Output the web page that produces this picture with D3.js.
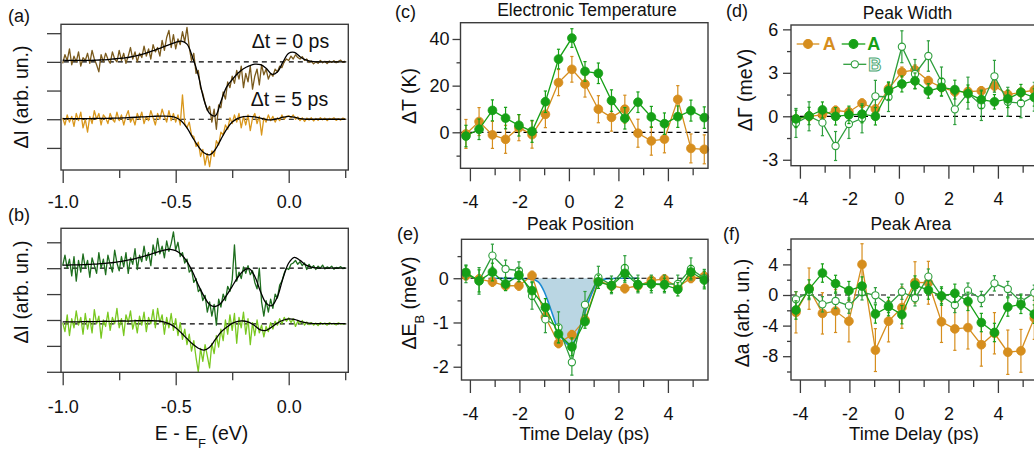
<!DOCTYPE html>
<html>
<head>
<meta charset="utf-8">
<script src="https://cdn.jsdelivr.net/npm/d3@7"></script>
<style>
  body { margin: 0; background: #fff; }
  svg { display: block; font-family: "Liberation Sans", Arial, Helvetica, sans-serif; }
</style>
</head>
<body>
<svg id="fig" width="1034" height="451"></svg>
<script>
// ---------- time-resolved fit parameters (panels c-f) ----------
const delay = [-4.16,-3.63,-3.09,-2.56,-2.02,-1.49,-0.95,-0.42,0.12,0.65,1.19,1.72,2.26,2.79,3.33,3.86,4.40,4.93,5.47];

// (c) electronic temperature, K
const tempOrange    = [-0.7,4.6,-1.1,-3.0,2.0,-1.0,7.7,21.3,27.0,20.7,9.9,6.4,9.9,-0.4,-3.7,-2.9,14.1,-6.9,-7.3];
const tempOrangeErr = [6.2,6.0,5.8,6.0,5.6,5.8,5.7,5.6,5.5,5.6,5.8,5.9,6.0,6.0,6.1,5.9,5.9,6.2,6.2];
const tempGreen     = [-1.6,1.3,9.4,6.1,3.0,0.4,13.1,31.4,40.4,26.1,25.3,13.6,6.0,12.9,6.6,3.7,6.7,9.3,6.3];
const tempGreenErr  = [4.6,4.4,4.5,4.6,4.6,4.7,4.6,4.2,4.0,4.2,4.4,4.6,4.6,4.4,4.5,4.6,4.6,4.5,4.6];

// (d) peak width, meV
const widthOrange    = [-0.2,0.0,0.1,0.4,0.3,0.9,0.5,1.9,3.05,3.2,2.45,2.0,1.7,1.7,1.75,2.1,1.5,1.65,1.8];
const widthOrangeErr = [0.3,0.3,0.3,0.3,0.3,0.3,0.3,0.35,0.35,0.35,0.3,0.3,0.3,0.3,0.3,0.35,0.3,0.3,0.3];
const widthGreen     = [-0.18,0.02,0.44,0.0,0.1,0.15,0.0,1.77,2.23,2.44,1.75,2.0,1.84,1.56,1.15,1.0,1.2,1.65,1.3];
const widthGreenErr  = [0.6,0.6,0.55,0.6,0.6,0.6,0.6,0.6,0.55,0.55,0.5,0.6,0.65,0.6,0.6,0.5,0.6,0.55,0.6];
const widthB         = [-0.46,0.0,-0.44,-2.05,-0.53,-0.14,1.38,1.33,4.8,2.92,4.16,2.4,0.48,1.6,0.76,2.76,1.0,0.9,1.35];
const widthBErr      = [1.0,1.0,0.9,1.0,1.0,1.0,1.1,1.0,1.1,1.0,1.05,1.0,1.05,1.1,1.05,1.1,1.0,1.0,1.0];

// (e) peak position, meV
const posOrange    = [0.06,-0.02,-0.08,-0.17,-0.17,0.06,-0.88,-1.47,-1.28,-0.94,-0.05,-0.17,-0.23,-0.17,-0.05,-0.02,-0.2,0.0,0.04];
const posOrangeErr = [0.1,0.1,0.1,0.1,0.1,0.1,0.1,0.1,0.1,0.1,0.1,0.1,0.1,0.1,0.1,0.1,0.1,0.1,0.1];
const posGreen     = [0.13,-0.06,0.14,-0.13,0.07,-0.28,-0.66,-1.26,-1.55,-0.98,-0.08,-0.17,0.11,-0.15,-0.13,-0.15,-0.25,0.14,-0.04];
const posGreenErr  = [0.15,0.25,0.2,0.15,0.15,0.2,0.2,0.2,0.2,0.15,0.15,0.15,0.2,0.15,0.15,0.15,0.15,0.15,0.2];
const posB         = [0.1,-0.06,0.51,0.21,0.17,-0.4,-0.93,-1.11,-1.9,-0.6,0.02,-0.15,0.23,-0.13,-0.13,-0.13,-0.13,0.21,0.0];
const posBErr      = [0.2,0.3,0.26,0.2,0.2,0.3,0.3,0.35,0.29,0.3,0.25,0.2,0.28,0.2,0.2,0.2,0.2,0.25,0.2];
// shift model curve for (e)
const shiftFitT = [-3.07,-2.0,-1.5,-1.24,-1.0,-0.84,-0.6,-0.43,-0.2,0.04,0.25,0.44,0.65,0.85,1.0,1.18,1.5,2.0,2.8];
const shiftFitV = [0,-0.005,-0.02,-0.08,-0.3,-0.53,-0.92,-1.2,-1.42,-1.51,-1.4,-1.12,-0.78,-0.45,-0.25,-0.08,-0.015,0,0];

// (f) peak area, arb. un.
const areaOrange    = [-2.26,0.83,-2.4,-2.1,-3.43,4.0,-7.2,-3.43,-1.65,1.65,1.6,-3.5,-4.43,-4.26,-6.5,-5.0,-7.48,-7.3,-3.0];
const areaOrangeErr = [2.7,2.7,2.7,2.8,2.7,2.7,2.8,2.7,2.7,2.7,2.8,2.7,2.8,2.8,2.8,2.7,2.9,2.8,2.8];
const areaGreen     = [-1.96,0.78,2.87,1.48,0.57,1.17,-2.48,-1.52,-2.57,1.3,0.65,-0.13,0.22,-0.83,-3.6,-4.9,-1.57,-1.22,-2.5];
const areaGreenErr  = [1.2,1.2,1.2,1.1,1.2,1.2,1.2,1.2,1.2,1.2,1.2,1.2,1.2,1.2,1.2,1.2,1.2,1.2,1.2];
const areaB         = [-0.57,0.39,-1.22,-0.78,-1.39,0.35,-0.04,-1.3,0.43,-0.43,2.4,-0.13,-1.3,0.57,-0.52,1.52,0.78,-0.87,0.3];
const areaBErr      = [1.0,1.0,1.0,1.0,1.0,1.0,1.0,1.0,1.0,1.0,1.0,1.0,1.0,1.0,1.0,1.0,1.0,1.0,1.0];

// ---------- difference spectra (panels a, b) ----------
// measured channels: E - EF from -1.00 eV in 0.01 eV steps
const specStart = -1.0, specStep = 0.01;
const specA0 = [
  1.95,2.25,2.05,2.45,1.90,2.20,2.00,2.35,1.85,2.15,
  2.05,2.30,1.95,2.40,2.10,1.90,1.65,2.25,2.00,2.30,
  2.10,1.95,2.35,2.10,2.00,2.40,2.05,2.30,1.95,2.20,
  2.50,2.10,2.35,2.00,2.30,2.15,2.55,2.20,2.45,2.10,
  2.60,2.35,2.50,2.20,2.75,2.40,2.85,3.10,2.50,2.95,
  2.45,2.80,2.60,3.05,2.70,3.20,2.50,2.05,2.30,1.60,
  1.70,1.10,0.90,0.55,0.30,0.45,-0.10,0.35,-0.35,0.50,
  0.40,0.95,0.70,1.30,1.10,1.50,1.25,1.70,1.40,1.85,
  1.10,1.60,1.30,1.85,1.05,1.50,1.75,1.20,1.90,1.55,
  1.75,1.40,1.60,1.50,1.75,1.65,1.85,1.80,2.00,2.10,
  2.05,2.20,2.10,2.25,2.15,2.10,2.18,2.05,2.10,1.98,
  2.03,1.93,2.00,1.95,2.05,1.97,2.02,1.94,2.03,1.98,
  2.04,1.97,2.02,2.06,1.98,2.03];
const specA5 = [
  0.05,-0.20,0.15,-0.10,0.10,-0.25,0.20,-0.05,0.25,-0.30,
  0.00,-0.45,0.10,-0.15,0.30,0.00,0.20,-0.20,0.15,0.05,
  -0.15,0.20,0.00,-0.10,0.25,-0.05,0.15,-0.20,0.10,0.30,
  -0.10,0.05,-0.20,0.20,0.00,0.25,-0.15,0.10,-0.05,0.30,
  0.05,-0.20,0.20,0.00,0.35,0.10,-0.10,0.30,-0.05,0.20,
  -0.10,0.15,-0.20,0.85,-0.15,-0.30,-0.10,-0.55,-0.60,-0.95,
  -0.80,-1.30,-1.05,-1.60,-1.20,-1.65,-1.10,-1.30,-0.75,-0.90,
  -0.45,-0.55,-0.20,-0.35,0.05,-0.15,0.15,-0.10,0.20,-0.30,
  0.10,-0.20,0.15,-0.40,0.05,0.20,-0.15,0.10,-0.55,0.05,
  -0.10,0.15,-0.05,0.10,-0.10,0.05,-0.05,0.15,0.00,0.10,
  0.12,0.05,0.15,0.00,0.08,-0.05,0.05,-0.08,0.04,-0.03,
  0.05,-0.06,0.03,-0.04,0.05,-0.02,0.04,-0.05,0.03,0.00,
  0.05,-0.04,0.02,-0.03,0.04,0.00];
const specB0 = [
  2.10,2.50,2.00,2.35,1.70,2.45,1.50,2.30,1.85,2.55,
  2.00,2.30,1.65,2.40,2.10,1.80,2.60,2.00,2.35,1.75,
  2.50,2.15,1.85,2.70,2.20,1.90,2.45,2.05,2.60,1.80,
  2.40,2.15,2.75,1.95,2.50,2.25,2.85,2.30,2.60,2.10,
  2.90,2.50,3.15,2.55,2.85,2.40,3.05,2.65,2.95,3.40,
  2.70,3.00,2.45,2.60,2.20,2.35,1.85,1.95,1.45,1.60,
  1.10,1.20,0.75,0.95,0.30,0.70,0.15,0.60,-0.20,0.80,
  0.50,1.00,0.75,1.30,1.10,1.55,2.90,1.50,1.85,1.60,
  2.05,1.80,2.10,1.75,1.90,1.45,1.20,2.00,0.70,0.15,
  0.75,0.30,0.80,0.45,1.00,0.85,1.35,1.50,1.80,2.00,
  1.95,2.15,2.20,2.30,2.15,2.25,2.10,2.20,1.95,2.15,
  2.00,2.10,1.95,2.08,2.00,2.12,1.97,2.05,2.00,2.08,
  1.96,2.03,2.00,2.06,1.98,2.02];
const specB5 = [
  -0.10,-0.45,0.20,-0.60,0.05,-0.30,0.35,-0.20,0.10,-0.55,
  0.25,-0.35,0.05,-0.50,0.40,-0.15,0.15,-0.70,0.00,-0.25,
  0.30,-0.40,0.10,-0.15,0.45,-0.30,0.05,-0.60,0.20,-0.10,
  0.35,-0.35,0.00,-0.50,0.15,-0.20,0.30,-0.45,0.10,-0.15,
  0.40,-0.30,0.45,-0.10,0.20,-0.55,0.10,-0.30,0.25,-0.40,
  0.05,-0.60,-0.10,-0.75,-0.35,-0.95,-0.55,-1.20,-0.80,-1.45,
  -2.00,-1.10,-1.60,-0.95,-1.40,-1.85,-0.90,-1.30,-0.60,-1.05,
  -0.35,-0.80,0.00,-0.55,0.20,-0.40,0.25,-0.90,0.10,-0.30,
  0.30,-0.55,0.05,-0.95,-0.10,-0.60,0.00,-0.50,-0.20,-0.65,
  -0.25,-0.45,-0.10,-0.35,-0.05,-0.20,0.05,-0.15,0.10,-0.05,
  0.08,-0.10,0.05,-0.25,-0.05,-0.15,-0.02,-0.20,-0.08,-0.18,
  -0.10,-0.20,-0.12,-0.22,-0.10,-0.17,-0.12,-0.20,-0.10,-0.16,
  -0.13,-0.19,-0.11,-0.16,-0.14,-0.15];

// fitted line shapes, sampled every 0.025 eV from -1.0 eV
const fitEnergy = [-1.0,-0.975,-0.95,-0.925,-0.9,-0.875,-0.85,-0.825,-0.8,-0.775,-0.75,-0.725,-0.7,-0.675,-0.65,-0.625,-0.6,-0.575,-0.55,-0.525,-0.5,-0.475,-0.45,-0.425,-0.4,-0.375,-0.35,-0.325,-0.3,-0.275,-0.25,-0.225,-0.2,-0.175,-0.15,-0.125,-0.1,-0.075,-0.05,-0.025,0,0.025,0.05,0.075,0.1,0.125,0.15,0.175,0.2,0.225,0.25];
const fitA0 = [2.06,2.05,2.05,2.05,2.05,2.05,2.06,2.07,2.08,2.10,2.12,2.14,2.17,2.21,2.26,2.32,2.39,2.46,2.54,2.61,2.68,2.72,2.62,2.15,1.53,0.68,0.2,0.12,0.62,1.12,1.38,1.6,1.76,1.86,1.92,1.9,1.78,1.57,1.65,2.0,2.3,2.33,2.18,2.07,2.02,2.0,2.0,2.0,2.0,2.0,2.0];
const fitA5 = [0.02,0.02,0.02,0.02,0.02,0.02,0.03,0.03,0.03,0.04,0.04,0.05,0.06,0.07,0.08,0.09,0.10,0.11,0.11,0.10,0.06,-0.06,-0.3,-0.64,-0.95,-1.17,-1.24,-1.06,-0.7,-0.35,-0.1,0.03,0.09,0.1,0.08,0.04,-0.01,-0.02,0.02,0.07,0.1,0.07,0.02,0.0,0.0,0.0,0.0,0.0,0.0,0.0,0.0];
const fitB0 = [2.12,2.12,2.13,2.13,2.14,2.15,2.16,2.18,2.2,2.22,2.25,2.29,2.33,2.38,2.44,2.5,2.57,2.64,2.7,2.73,2.68,2.53,2.25,1.85,1.35,0.92,0.6,0.52,0.65,0.95,1.3,1.65,1.9,1.98,1.68,1.1,0.65,0.55,0.9,1.62,2.2,2.42,2.3,2.13,2.04,2.01,2.0,2.0,2.0,2.0,2.0];
const fitB5 = [-0.07,-0.07,-0.07,-0.07,-0.06,-0.06,-0.06,-0.05,-0.05,-0.05,-0.04,-0.04,-0.04,-0.03,-0.03,-0.03,-0.03,-0.04,-0.08,-0.16,-0.3,-0.5,-0.72,-0.93,-1.09,-1.16,-1.05,-0.76,-0.47,-0.28,-0.13,-0.05,-0.04,-0.09,-0.22,-0.38,-0.4,-0.27,-0.12,-0.01,0.04,0.02,-0.05,-0.1,-0.13,-0.14,-0.14,-0.14,-0.14,-0.14,-0.14];
const baselinesA = [2, 0];
const baselinesB = [2, -0.15];

// ---------- styling ----------
const FONT = '"Liberation Sans", Arial, Helvetica, sans-serif';
const ORANGE = "#d68e1e";
const GREEN = "#16a016";
const GREEN_OPEN = "#2e9e3c";
const FRAME = "#3c3c3c";
const INK = "#111";

const svg = d3.select("#fig");

function frame(g, b) {
  g.append("rect").attr("x", b.l).attr("y", b.t).attr("width", b.r - b.l).attr("height", b.b - b.t)
    .attr("fill", "none").attr("stroke", FRAME).attr("stroke-width", 1.4);
}

function styleAxis(sel, size) {
  sel.attr("font-family", FONT);
  sel.select(".domain").remove();
  sel.selectAll(".tick line").attr("stroke", FRAME).attr("stroke-width", 1.3);
  sel.selectAll(".tick text").attr("fill", INK).style("font-size", size + "px");
}

function axes(g, x, y, b, o) {
  const gx = g.append("g").attr("transform", `translate(0,${b.b})`)
    .call(d3.axisBottom(x).tickValues(o.xMajor).tickSize(13).tickPadding(o.xPad).tickFormat(o.xFmt));
  styleAxis(gx, 18);
  const gxm = g.append("g").attr("transform", `translate(0,${b.b})`)
    .call(d3.axisBottom(x).tickValues(o.xMinor).tickSize(o.xMinorLen || 7).tickFormat(() => ""));
  styleAxis(gxm, 18);
  const gy = g.append("g").attr("transform", `translate(${b.l},0)`)
    .call(d3.axisLeft(y).tickValues(o.yMajor).tickSize(o.yLen || 8).tickPadding(o.yPad || 4).tickFormat(o.yFmt || (() => "")));
  styleAxis(gy, 18);
  if (o.yMinor) {
    const gym = g.append("g").attr("transform", `translate(${b.l},0)`)
      .call(d3.axisLeft(y).tickValues(o.yMinor).tickSize(4).tickFormat(() => ""));
    styleAxis(gym, 18);
  }
}

function zeroLine(g, y, b, v, x0, x1) {
  g.append("line").attr("x1", x0 ?? b.l).attr("x2", x1 ?? b.r).attr("y1", y(v)).attr("y2", y(v))
    .attr("stroke", "#000").attr("stroke-width", 1.2).attr("stroke-dasharray", "5,4");
}

function label(x, y, txt, size, extra) {
  const t = svg.append("text").attr("x", x).attr("y", y).attr("fill", INK)
    .attr("font-family", FONT).style("font-size", size + "px").text(txt);
  if (extra) extra(t);
  return t;
}

function yTitle(cx, cy, parts) {
  const t = svg.append("text").attr("transform", `translate(${cx},${cy}) rotate(-90)`)
    .attr("text-anchor", "middle").attr("dy", "0.35em").attr("fill", INK)
    .attr("font-family", FONT).style("font-size", "19.5px");
  parts.forEach(p => {
    const s = t.append("tspan").text(p.t);
    if (p.sub) s.attr("baseline-shift", "sub").style("font-size", "13px");
  });
}

const fmtPlain = d => String(d);

// ---------- spectra panels ----------
function spectraPanel(b, yDomain, yTicks, traces, fits, bases, xPad) {
  const x = d3.scaleLinear().domain([-1.0075, 0.2637]).range([b.l, b.r]);
  const y = d3.scaleLinear().domain(yDomain).range([b.b, b.t]);
  const g = svg.append("g");
  axes(g, x, y, b, {
    xMajor: [-1, -0.5, 0], xMinor: [-0.75, -0.25, 0.25], xMinorLen: 8, xPad: xPad,
    xFmt: d => d.toFixed(1), yMajor: yTicks, yLen: 14
  });
  bases.forEach(v => zeroLine(g, y, b, v, x(-0.995), x(0.255)));
  const line = d3.line().x(d => x(d[0])).y(d => y(d[1]));
  traces.forEach(tr => {
    const pts = tr.v.map((v, i) => [specStart + i * specStep, v]);
    g.append("path").datum(pts).attr("d", line).attr("fill", "none")
      .attr("stroke", tr.c).attr("stroke-width", 1.3).attr("stroke-linejoin", "round");
  });
  const fitLine = d3.line().x(d => x(d[0])).y(d => y(d[1])).curve(d3.curveCatmullRom.alpha(0.5));
  fits.forEach(f => {
    g.append("path").datum(fitEnergy.map((e, i) => [e, f[i]])).attr("d", fitLine)
      .attr("fill", "none").attr("stroke", "#000").attr("stroke-width", 1.3);
  });
  frame(g, b);
  return { x, y };
}

const boxA = { l: 61, r: 348.3, t: 24.3, b: 170 };
const boxB = { l: 61, r: 348.3, t: 228.3, b: 372.3 };
spectraPanel(boxA, [-1.77, 3.31], [-1, 0, 1, 2, 3],
  [{ v: specA0, c: "#7a5a1c" }, { v: specA5, c: "#d9971c" }], [fitA0, fitA5], baselinesA, 12);
spectraPanel(boxB, [-2.02, 3.54], [-2, -1, 0, 1, 2, 3],
  [{ v: specB0, c: "#1e6e1e" }, { v: specB5, c: "#79c820" }], [fitB0, fitB5], baselinesB, 14.7);

label(251.7, 48.3, "\u0394t = 0 ps", 19.5);
label(250.7, 106, "\u0394t = 5 ps", 19.5);
yTitle(21.5, 97, [{ t: "\u0394I (arb. un.)" }]);
yTitle(21.5, 292, [{ t: "\u0394I (arb. un.)" }]);
{
  const t = label(201.5, 440, "", 19.5, s => s.attr("text-anchor", "middle"));
  t.append("tspan").text("E - E");
  t.append("tspan").text("F").attr("baseline-shift", "sub").style("font-size", "13px");
  t.append("tspan").text(" (eV)");
}
label(8, 21.5, "(a)", 18);
label(8, 221, "(b)", 18);

// ---------- time-delay panels ----------
function drawSeries(g, x, y, vals, errs, color, filled) {
  const pts = delay.map((t, i) => ({ t, v: vals[i], e: errs[i] }));
  g.append("path").datum(pts)
    .attr("d", d3.line().x(d => x(d.t)).y(d => y(d.v)))
    .attr("fill", "none").attr("stroke", color).attr("stroke-width", 1.3);
  const eb = g.append("g").attr("stroke", color).attr("stroke-width", 1.2);
  eb.selectAll(".bar").data(pts).join("line")
    .attr("x1", d => x(d.t)).attr("x2", d => x(d.t))
    .attr("y1", d => y(d.v - d.e)).attr("y2", d => y(d.v + d.e));
  eb.selectAll(".capLo").data(pts).join("line")
    .attr("x1", d => x(d.t) - 1.6).attr("x2", d => x(d.t) + 1.6)
    .attr("y1", d => y(d.v - d.e)).attr("y2", d => y(d.v - d.e));
  eb.selectAll(".capHi").data(pts).join("line")
    .attr("x1", d => x(d.t) - 1.6).attr("x2", d => x(d.t) + 1.6)
    .attr("y1", d => y(d.v + d.e)).attr("y2", d => y(d.v + d.e));
  g.append("g").selectAll("circle").data(pts).join("circle")
    .attr("cx", d => x(d.t)).attr("cy", d => y(d.v))
    .attr("r", filled ? 4.4 : 3.6)
    .attr("fill", filled ? color : "#fff")
    .attr("stroke", color).attr("stroke-width", filled ? 0.8 : 1.1);
}

function timePanel(b, xRange, yDomain, yMajor, yMinor, yPad, series, extra) {
  const x = d3.scaleLinear().domain([-4.36, 5.62]).range(xRange);
  const y = d3.scaleLinear().domain(yDomain).range([b.b, b.t]);
  const g = svg.append("g");
  axes(g, x, y, b, {
    xMajor: [-4, -2, 0, 2, 4], xMinor: [-3, -1, 1, 3, 5], xPad: 14, xFmt: fmtPlain,
    yMajor, yMinor, yPad, yFmt: fmtPlain
  });
  if (extra) extra(g, x, y);
  zeroLine(g, y, b, 0);
  series.forEach(s => drawSeries(g, x, y, s.v, s.e, s.c, s.f));
  frame(g, b);
  return { g, x, y };
}

const boxC = { l: 460.5, r: 708, t: 22.7, b: 168.3 };
const boxD = { l: 791, r: 1039, t: 25, b: 165.7 };
const boxE = { l: 461.5, r: 708, t: 239.3, b: 380 };
const boxF = { l: 791, r: 1039, t: 239, b: 380 };

timePanel(boxC, [461, 708], [-15.43, 46.98], [0, 20, 40], [-10, 10, 30], 3, [
  { v: tempOrange, e: tempOrangeErr, c: ORANGE, f: true },
  { v: tempGreen, e: tempGreenErr, c: GREEN, f: true }
]);

const pd = timePanel(boxD, [791, 1038], [-3.41, 6.3], [-3, 0, 3, 6], [-1.5, 1.5, 4.5], 4.7, [
  { v: widthOrange, e: widthOrangeErr, c: ORANGE, f: true },
  { v: widthB, e: widthBErr, c: GREEN_OPEN, f: false },
  { v: widthGreen, e: widthGreenErr, c: GREEN, f: true }
]);

timePanel(boxE, [461, 708], [-2.30, 0.88], [-2, -1, 0], [-1.5, -0.5, 0.5], 4.7, [
  { v: posOrange, e: posOrangeErr, c: ORANGE, f: true },
  { v: posB, e: posBErr, c: GREEN_OPEN, f: false },
  { v: posGreen, e: posGreenErr, c: GREEN, f: true }
], (g, x, y) => {
  const pts = shiftFitT.map((t, i) => [t, shiftFitV[i]]);
  g.append("path").datum(pts)
    .attr("d", d3.area().x(d => x(d[0])).y0(y(0)).y1(d => y(d[1])).curve(d3.curveMonotoneX))
    .attr("fill", "#b3d2e0").attr("opacity", 0.9);
  g.append("path").datum(pts)
    .attr("d", d3.line().x(d => x(d[0])).y(d => y(d[1])).curve(d3.curveMonotoneX))
    .attr("fill", "none").attr("stroke", "#1c8ad2").attr("stroke-width", 1.6);
});

timePanel(boxF, [791, 1038], [-11.11, 7.32], [-8, -4, 0, 4], [-10, -6, -2, 2, 6], 4.7, [
  { v: areaOrange, e: areaOrangeErr, c: ORANGE, f: true },
  { v: areaB, e: areaBErr, c: GREEN_OPEN, f: false },
  { v: areaGreen, e: areaGreenErr, c: GREEN, f: true }
]);

// legend inside (d)
{
  const g = svg.append("g");
  const row = (x0, x1, yy, color, filled, txt, tx) => {
    g.append("line").attr("x1", x0).attr("x2", x1).attr("y1", yy).attr("y2", yy)
      .attr("stroke", color).attr("stroke-width", 1.3);
    g.append("circle").attr("cx", (x0 + x1) / 2).attr("cy", yy).attr("r", filled ? 4.4 : 3.6)
      .attr("fill", filled ? color : "#fff").attr("stroke", color).attr("stroke-width", 1.1);
    const t = g.append("text").attr("x", tx).attr("y", yy + 6.2).attr("font-family", FONT)
      .style("font-size", "18px").attr("font-weight", "bold").text(txt);
    if (filled) t.attr("fill", color);
    else t.attr("fill", "#fff").attr("stroke", "#4aa872").attr("stroke-width", 1);
  };
  row(796.7, 819.3, 44, ORANGE, true, "A", 822.7);
  row(841.7, 865.3, 44, GREEN, true, "A", 867.3);
  row(843.3, 866.3, 64.3, GREEN_OPEN, false, "B", 868.3);
}

// panel titles and letters
label(587, 16, "Electronic Temperature", 17.5, t => t.attr("text-anchor", "middle"));
label(907.5, 19.3, "Peak Width", 17.5, t => t.attr("text-anchor", "middle"));
label(580.5, 230, "Peak Position", 17.5, t => t.attr("text-anchor", "middle"));
label(910.8, 230, "Peak Area", 17.5, t => t.attr("text-anchor", "middle"));
label(395, 18, "(c)", 18);
label(726, 17, "(d)", 18);
label(397, 240, "(e)", 18);
label(723, 240, "(f)", 18);

yTitle(409.5, 96, [{ t: "\u0394T (K)" }]);
yTitle(745.5, 90, [{ t: "\u0394\u0393 (meV)" }]);
yTitle(409.5, 303, [{ t: "\u0394E" }, { t: "B", sub: true }, { t: " (meV)" }]);
yTitle(742.5, 313, [{ t: "\u0394a (arb. un.)" }]);
label(584.5, 440, "Time Delay (ps)", 18.5, t => t.attr("text-anchor", "middle"));
label(914, 440, "Time Delay (ps)", 18.5, t => t.attr("text-anchor", "middle"));
</script>
</body>
</html>
